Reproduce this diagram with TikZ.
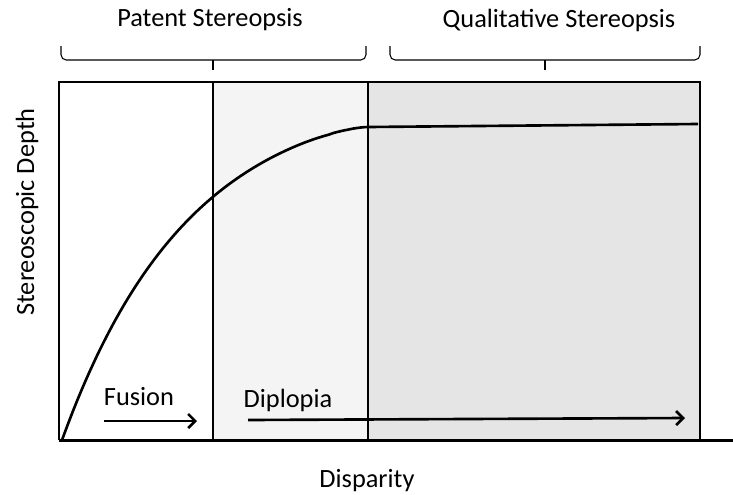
\documentclass[tikz,border=0pt]{standalone}
\usepackage{fontspec}
\setmainfont{Carlito}
\usetikzlibrary{arrows.meta}
\definecolor{diplopiagrey}{RGB}{244,244,244}
\definecolor{qualgrey}{RGB}{229,229,229}
\tikzset{
  label text/.style={font=\fontsize{15}{17}\selectfont, inner sep=0pt},
  zone line/.style={line width=1.4pt},
  range brace/.style={line width=0.6pt, rounded corners=3pt},
  range arrow/.style={line width=1.5pt, -{Straight Barb[length=4pt,width=8pt]}},
}
\begin{document}
\begin{tikzpicture}[x=0.02cm,y=-0.02cm]
\useasboundingbox (0,0) rectangle (733,494);
% shaded zones
\fill[diplopiagrey] (213,82) rectangle (368,440);
\fill[qualgrey] (368,82) rectangle (700,440);
\draw[line width=0.8pt] (59,440) -- (59,82) -- (700,82) -- (700,440);
\draw[zone line] (213,82) -- (213,440);
\draw[zone line] (368,82) -- (368,440);
\draw[line width=1.7pt] (59,440) -- (733,440);
% depth curve
\draw[line width=1.5pt] plot[domain=0:1, samples=80, variable=\u] ({62+306*\u},{440-313*(1-(1.0001-\u)^(2.7-\u))}) -- (698,124);
% brackets
\coordinate (pl) at (61,46);
\coordinate (pm) at (213,60);
\coordinate (pr) at (366,46);
\coordinate (ql) at (390,46);
\coordinate (qm) at (545,60);
\coordinate (qr) at (700,46);
\draw[range brace] (pl) |- (pm) -| (pr);
\draw[range brace] (pm) -- ++(0,10);
\draw[range brace] (ql) |- (qm) -| (qr);
\draw[range brace] (qm) -- ++(0,10);
\node[label text] (patent) at (210,20) {Patent Stereopsis};
\node[label text] (qualitative) at (559,20) {Qualitative Stereopsis};
% axes
\node[label text, rotate=90] (depth) at (27,212) {Stereoscopic Depth};
\node[label text] (disparity) at (367,481) {Disparity};
% ranges
\node[label text] (fusion) at (139,397) {Fusion};
\node[label text] (diplopia) at (288,400) {Diplopia};
\coordinate (fs) at (104,421);
\coordinate (fe) at (197,421);
\coordinate (ds) at (248,420);
\coordinate (de) at (685,418);
\draw[range arrow] (fs) -- (fe);
\draw[range arrow] (ds) -- (de);
\end{tikzpicture}
\end{document}
